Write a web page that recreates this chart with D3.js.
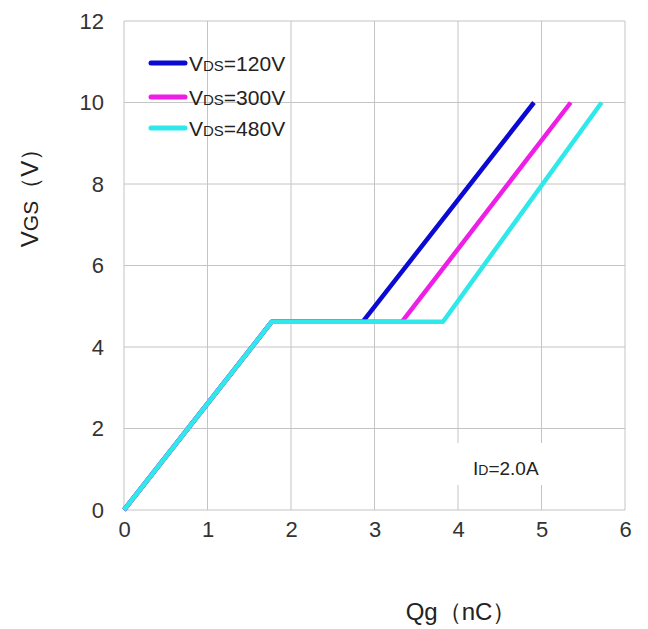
<!DOCTYPE html>
<html>
<head>
<meta charset="utf-8">
<script src="https://cdn.jsdelivr.net/npm/d3@7"></script>
<style>
  body { margin: 0; background: #fff; }
  text { font-family: "Liberation Sans", Arial, sans-serif; }
</style>
</head>
<body>
<div id="chart"></div>
<script>
(function() {

    // gate charge curves, Qg (nC) vs VGS (V)
    const series = ["VDS=120V", "VDS=300V", "VDS=480V"];
    const seriesColors = ["#0a0ad2", "#ee1ee6", "#2ee8ea"];
    const q120 = [0, 1.77, 2.86, 4.91];
    const v120 = [0, 4.62, 4.62, 10];
    const q300 = [0, 1.77, 3.33, 5.35];
    const v300 = [0, 4.62, 4.62, 10];
    const q480 = [0, 1.77, 3.82, 5.72];
    const v480 = [0, 4.62, 4.62, 10];
    const xTicks = [0, 1, 2, 3, 4, 5, 6];
    const yTicks = [0, 2, 4, 6, 8, 10, 12];

    const width = 648;
    const height = 629;
    const margin = {top: 21, right: 23, bottom: 119, left: 124};

    const lines = [
        q120.map((q, i) => ({q: q, v: v120[i]})),
        q300.map((q, i) => ({q: q, v: v300[i]})),
        q480.map((q, i) => ({q: q, v: v480[i]}))
    ];

    const x = d3.scaleLinear()
        .domain([0, 6])
        .range([margin.left, width - margin.right]);

    const y = d3.scaleLinear()
        .domain([0, 12])
        .range([height - margin.bottom, margin.top]);

    const svg = d3.select("#chart").append("svg")
        .attr("width", width)
        .attr("height", height);

    // grid
    svg.append("g")
        .selectAll("line")
        .data(xTicks)
        .join("line")
        .attr("x1", d => x(d)).attr("x2", d => x(d))
        .attr("y1", y(0)).attr("y2", y(12))
        .attr("stroke", "#c4c4c4");

    svg.append("g")
        .selectAll("line")
        .data(yTicks)
        .join("line")
        .attr("x1", x(0)).attr("x2", x(6))
        .attr("y1", d => y(d)).attr("y2", d => y(d))
        .attr("stroke", "#c4c4c4");

    // axes (labels only)
    const xAxis = g => g
        .attr("transform", `translate(0,${y(0) + 3})`)
        .call(d3.axisBottom(x).tickValues(xTicks).tickFormat(d3.format("d")).tickSize(0).tickPadding(8))
        .attr("font-size", "22px")
        .attr("font-family", null)
        .call(g => g.select(".domain").remove())
        .call(g => g.selectAll("text").attr("fill", "#333"));

    const yAxis = g => g
        .attr("transform", `translate(${x(0) - 20},0)`)
        .call(d3.axisLeft(y).tickValues(yTicks).tickSize(0).tickPadding(0))
        .attr("font-size", "22px")
        .attr("font-family", null)
        .call(g => g.select(".domain").remove())
        .call(g => g.selectAll("text").attr("fill", "#333"));

    svg.append("g").call(xAxis);
    svg.append("g").call(yAxis);

    // annotation box
    svg.append("rect")
        .attr("x", 422).attr("y", 443)
        .attr("width", 136).attr("height", 42)
        .attr("fill", "#fff");

    const idText = svg.append("text")
        .attr("x", 473).attr("y", 475)
        .attr("font-size", "19px")
        .attr("fill", "#222");
    idText.append("tspan").text("I");
    idText.append("tspan").attr("font-size", "14px").text("D");
    idText.append("tspan").text("=2.0A");

    // curves
    const line = d3.line()
        .x(d => x(d.q))
        .y(d => y(d.v));

    svg.append("g")
        .selectAll("path")
        .data(lines)
        .join("path")
        .attr("d", line)
        .attr("fill", "none")
        .attr("stroke", (d, i) => seriesColors[i])
        .attr("stroke-width", 4.5)
        .attr("stroke-linejoin", "round");

    // legend
    const legend = svg.append("g")
        .selectAll("g")
        .data(series)
        .join("g")
        .attr("transform", (d, i) => `translate(151,${[63, 97, 128][i]})`);

    legend.append("line")
        .attr("x1", 0).attr("x2", 34)
        .attr("stroke", (d, i) => seriesColors[i])
        .attr("stroke-width", 5)
        .attr("stroke-linecap", "round");

    const lt = legend.append("text")
        .attr("x", 38).attr("y", 8)
        .attr("font-size", "21px")
        .attr("fill", "#222");
    lt.append("tspan").text("V");
    lt.append("tspan").attr("font-size", "15px").text("DS");
    lt.append("tspan").text(d => d.slice(3));

    // axis titles
    const yt = svg.append("text")
        .attr("transform", "translate(38,192) rotate(-90)")
        .attr("text-anchor", "middle")
        .attr("font-size", "24px")
        .attr("fill", "#222");
    yt.append("tspan").text("V");
    yt.append("tspan").attr("font-size", "21px").text("GS");
    yt.append("tspan").text("（V）");

    svg.append("text")
        .attr("x", 461).attr("y", 620)
        .attr("text-anchor", "middle")
        .attr("font-size", "24px")
        .attr("fill", "#222")
        .text("Qg（nC）");

})();
</script>
</body>
</html>
